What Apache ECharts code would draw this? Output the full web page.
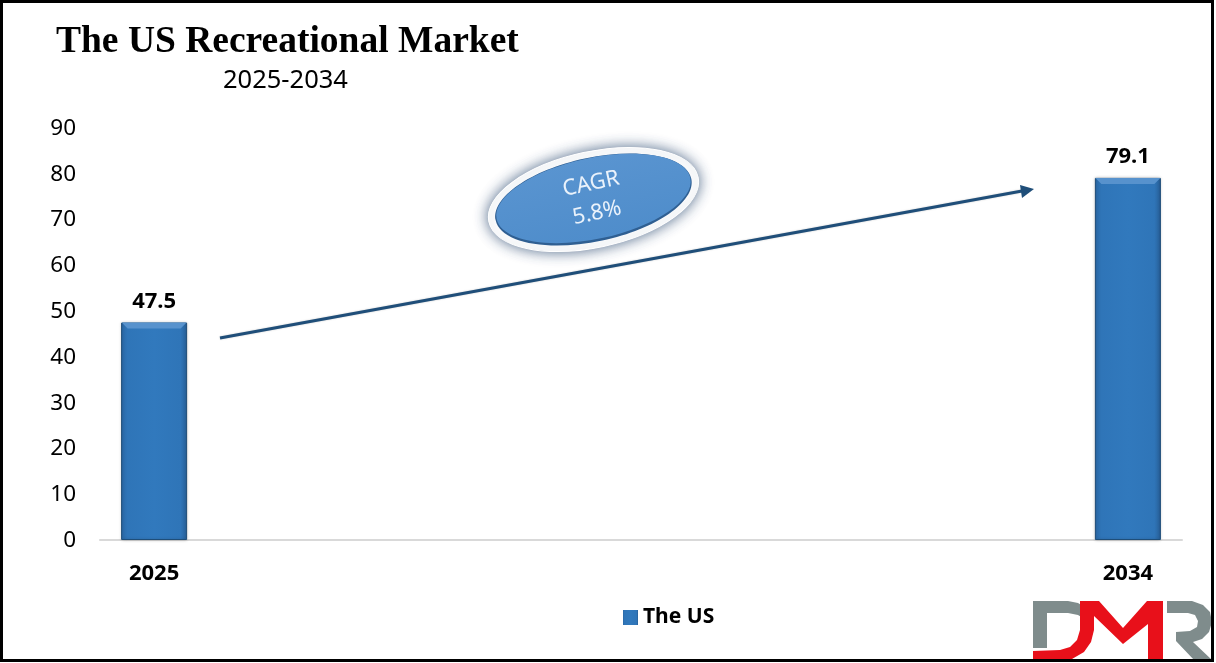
<!DOCTYPE html>
<html><head><meta charset="utf-8">
<style>html,body{margin:0;padding:0;background:#fff;overflow:hidden}#c{width:1216px;height:663px}</style>
<script src="https://cdn.jsdelivr.net/npm/echarts@6/dist/echarts.min.js"></script>
</head><body><div id="c"></div>
<script>
const categories = ['2025','','','','','','','','','2034'];
const seriesName = 'The US';
const usValues = [47.5,null,null,null,null,null,null,null,null,79.1];
const yTicks = {min:0,max:90,interval:10};
const titleText = 'The US Recreational Market';
const subtitleText = '2025-2034';
const cagrLines = ['CAGR','5.8%'];

const sans = '"Noto Sans","Open Sans",sans-serif';
const chart = echarts.init(document.getElementById('c'),null,{renderer:'canvas'});
const barFill = new echarts.graphic.LinearGradient(0,0,1,0,[
  {offset:0,color:'#2a68a6'},{offset:0.1,color:'#2f75b8'},{offset:0.5,color:'#3179bd'},{offset:0.9,color:'#2f75b8'},{offset:1,color:'#275f98'}]);
const rot = 12*Math.PI/180;
chart.setOption({
  animation:false,
  backgroundColor:'#fff',
  title:[
    {text:titleText,left:51,top:18,textStyle:{fontFamily:'"Liberation Serif",serif',fontWeight:'bold',fontSize:37.5,color:'#000'}},
    {text:subtitleText,left:218,top:63,textStyle:{fontFamily:sans,fontWeight:'normal',fontSize:25.5,color:'#000'}}
  ],
  legend:{show:true,data:[seriesName],left:618,top:602,icon:'rect',itemWidth:15,itemHeight:15,itemGap:6,
    itemStyle:{borderWidth:0,shadowBlur:0},
    textStyle:{fontFamily:sans,fontWeight:'bold',fontSize:21,color:'#000'}},
  grid:{left:100,right:34,top:128,bottom:123,containLabel:false},
  xAxis:{type:'category',data:categories,
    axisLine:{show:true,lineStyle:{color:'#d9d9d9',width:2}},axisTick:{show:false},
    axisLabel:{interval:0,margin:23,fontFamily:sans,fontWeight:'bold',fontSize:22,color:'#000'}},
  yAxis:{type:'value',min:yTicks.min,max:yTicks.max,interval:yTicks.interval,
    axisLine:{show:false},axisTick:{show:false},splitLine:{show:false},
    axisLabel:{margin:24,verticalAlign:'top',padding:[-11,0,0,0],fontFamily:sans,fontSize:22.5,color:'#000'}},
  series:[
    {name:seriesName,type:'bar',data:usValues,barWidth:66,
     itemStyle:{color:barFill,borderColor:'#1f4e79',borderWidth:1,shadowColor:'rgba(0,0,0,0.2)',shadowBlur:3},
     label:{show:true,position:'top',distance:10,fontFamily:sans,fontWeight:'bold',fontSize:22,color:'#000'}},
    {name:'bevel',type:'custom',data:usValues.map((v,i)=>[i,v]).filter(d=>d[1]!=null),silent:true,z:3,
     encode:{x:0,y:1},
     renderItem:(p,api)=>{
       const pt=api.coord([api.value(0),api.value(1)]);
       const h=32.5,d=6;
       return {type:'polygon',shape:{points:[[pt[0]-h,pt[1]],[pt[0]+h,pt[1]],[pt[0]+h-d,pt[1]+d],[pt[0]-h+d,pt[1]+d]]},
         style:{fill:'#5792cd'}};
     }}
  ],
  graphic:[
    {type:'rect',z:50,silent:true,shape:{x:1.5,y:1.5,width:1211,height:659},style:{fill:'none',stroke:'#000',lineWidth:3}},
    {type:'line',z:5,shape:{x1:220,y1:338,x2:1022,y2:191},style:{stroke:'#1f4e79',lineWidth:3,shadowColor:'rgba(0,0,0,0.2)',shadowBlur:2}},
    {type:'polygon',z:5,shape:{points:[[1034,189],[1020,185],[1022,198]]},style:{fill:'#1f4e79'}},
    {type:'ellipse',z:6,x:593.5,y:199.5,rotation:rot,shape:{cx:0,cy:0,rx:107,ry:48},
      style:{fill:'#fff',stroke:'#fff',lineWidth:1,shadowColor:'rgba(40,70,110,0.8)',shadowBlur:14}},
    {type:'ellipse',z:7,x:593.5,y:199.5,rotation:rot,shape:{cx:0,cy:0,rx:100,ry:42},
      style:{fill:'#2f5f92'}},
    {type:'ellipse',z:8,x:593.5,y:198.5,rotation:rot,shape:{cx:0,cy:0,rx:99,ry:40.5},
      style:{fill:new echarts.graphic.LinearGradient(0,0,0,1,[{offset:0,color:'#5994d0'},{offset:1,color:'#4f8dcb'}])}},
    {type:'text',z:9,x:591,y:184,rotation:rot,style:{text:cagrLines[0],font:'22px '+sans,fill:'#eaf2fb',align:'center',verticalAlign:'middle'}},
    {type:'text',z:9,x:597,y:213,rotation:rot,style:{text:cagrLines[1],font:'22px '+sans,fill:'#eaf2fb',align:'center',verticalAlign:'middle'}},
    {type:'polygon',z:10,shape:{points:[[1033,601],[1068,601],[1078,603],[1086,608],[1086,620],[1078,615],[1068,613],[1047,613],[1047,648],[1033,648]]},style:{fill:'#7f8c8c'}},
    {type:'polygon',z:11,shape:{points:[[1033,651],[1060,650],[1070,647],[1077,640],[1080,630],[1080,601],[1099,601],[1123,628],[1147,601],[1163,601],[1163,661],[1148,661],[1148,624],[1123,644],[1094,616],[1094,630],[1091,642],[1084,652],[1072,659],[1060,661],[1033,661]]},style:{fill:'#e8101a'}},
    {type:'polygon',z:10,shape:{points:[[1167,601],[1192,601],[1203,605],[1210,612],[1212,622],[1209,632],[1202,639],[1193,642],[1212,660],[1194,660],[1176,641],[1176,632],[1190,631],[1197,627],[1198,621],[1195,615],[1188,613],[1167,613]]},style:{fill:'#7f8c8c'}}
  ]
});
</script></body></html>
